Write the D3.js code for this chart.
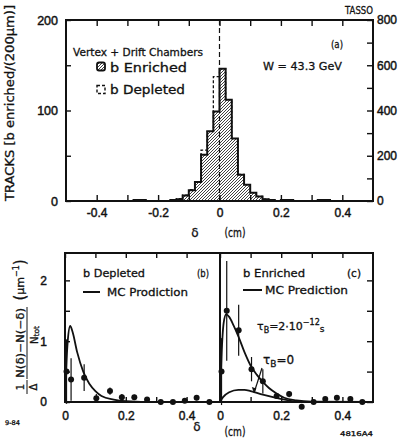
<!DOCTYPE html>
<html>
<head>
<meta charset="utf-8">
<title>TASSO impact parameter</title>
<script src="https://d3js.org/d3.v7.min.js"></script>
<style>
  body { margin: 0; background: #fff; }
  text { font-family: "DejaVu Sans", sans-serif; fill: #111; stroke: #111; stroke-width: 0.3px; }
  .tick text { font-family: "Liberation Sans", Arial, sans-serif; stroke-width: 0.45px; }
</style>
</head>
<body>
<div id="chart"></div>
<script>
// ---- data ----
// histogram bins (lower edges, cm), width 0.02 cm = 200 um
var binLo = [-0.30,-0.28,-0.26,-0.24,-0.22,-0.20,-0.18,-0.16,-0.14,-0.12,-0.10,-0.08,-0.06,-0.04,-0.02,
             0.00,0.02,0.04,0.06,0.08,0.10,0.12,0.14,0.16,0.18,0.20,0.22,0.24,0.26,0.28,0.30,0.32,0.34,0.36,0.38];
var binW = 0.02;
// b enriched, left scale
var enriched = [0,1,1,0,0,0,0,1,2,6,12,21,51,77,99,146,112,69,29,18,9,5,2,1,0,1,1,0,0,0,0,1,1,0,0];
// b depleted, right scale
var depleted = [0,3,3,0,0,0,2,4,10,26,50,86,225,305,550,585,445,276,118,72,36,20,8,4,2,3,3,0,0,0,2,3,3,0,0];

var topXTicks = [-0.4,-0.3,-0.2,-0.1,0,0.1,0.2,0.3,0.4];
var topXLabels = [-0.4,-0.2,0,0.2,0.4];
var leftTicks = [0,50,100,150,200];
var rightTicks = [0,100,200,300,400,500,600,700,800];

// panel (b): b depleted
var depPts = [
  {x:0.005,y:0.50,e:0.53},{x:0.020,y:0.37,e:0.35},{x:0.063,y:0.40,e:0.22},{x:0.103,y:0.06,e:0.07},
  {x:0.148,y:0.18,e:0.06},{x:0.187,y:0.08,e:0.05},{x:0.228,y:0.08,e:0.04},{x:0.270,y:0.04,e:0.03},
  {x:0.315,y:0.00,e:0.02},{x:0.355,y:0.00,e:0.02},{x:0.394,y:0.02,e:0.03},{x:0.433,y:0.07,e:0.04},
  {x:0.475,y:0.00,e:0.02}];
var mcDep = [[0,0],[0.004,0.55],[0.009,1.0],[0.017,1.25],[0.025,1.15],[0.04,0.82],[0.06,0.5],
  [0.08,0.3],[0.10,0.18],[0.12,0.1],[0.16,0.04],[0.20,0.015],[0.30,0],[0.50,0]];

// panel (c): b enriched
var enrPts = [
  {x:0.005,y:0.50,e:0.55},{x:0.022,y:1.50,e:0.82},{x:0.061,y:1.18,e:0.42},{x:0.103,y:0.54,e:0.20},
  {x:0.140,y:0.34,e:0.20},{x:0.185,y:0.10,e:0.05},{x:0.226,y:0.13,e:0.05},{x:0.267,y:-0.08,e:0.03},
  {x:0.306,y:0.00,e:0.02},{x:0.344,y:0.05,e:0.02},{x:0.382,y:0.07,e:0.04},{x:0.426,y:0.05,e:0.04},
  {x:0.465,y:0.00,e:0.02}];
var mcTau2 = [[0,0],[0.005,0.75],[0.012,1.3],[0.02,1.44],[0.03,1.4],[0.045,1.25],[0.06,1.08],
  [0.08,0.82],[0.10,0.6],[0.12,0.45],[0.14,0.33],[0.16,0.23],[0.185,0.14],[0.21,0.07],
  [0.25,0.025],[0.30,0.005],[0.50,0]];
var mcTau0 = [[0,0],[0.01,0.08],[0.03,0.16],[0.06,0.2],[0.08,0.2],[0.10,0.18],[0.14,0.12],
  [0.18,0.07],[0.22,0.03],[0.27,0],[0.50,0]];

var botXTicks = [0,0.1,0.2,0.3,0.4];
var botXLabels = [0,0.2,0.4];
var botYTicks = [0,0.5,1,1.5,2];

// ---- drawing ----
var svg = d3.select("#chart").append("svg").attr("width", 409).attr("height", 443);

var defs = svg.append("defs");
var pat = defs.append("pattern").attr("id", "hatch")
  .attr("patternUnits", "userSpaceOnUse").attr("width", 3).attr("height", 3);
pat.append("rect").attr("width", 3).attr("height", 3).attr("fill", "#fff");
pat.append("path").attr("d", "M-0.75,0.75 l1.5,-1.5 M0,3 l3,-3 M2.25,3.75 l1.5,-1.5")
  .attr("stroke", "#111").attr("stroke-width", 0.8);

function fmt(d) { return d === 0 ? "0" : (d < 0 ? "-" : "") + d3.format(".1f")(Math.abs(d)); }

// top panel
var xT = d3.scaleLinear().domain([-0.5, 0.5]).range([66, 373]);
var yL = d3.scaleLinear().domain([0, 200]).range([201, 20]);
var yR = d3.scaleLinear().domain([0, 800]).range([201, 20]);

function stepPath(vals, y) {
  var pts = [[xT(binLo[0]), y(0)]];
  binLo.forEach(function(lo, i) {
    pts.push([xT(lo), y(vals[i])], [xT(lo + binW), y(vals[i])]);
  });
  pts.push([xT(binLo[binLo.length - 1] + binW), y(0)]);
  return d3.line()(pts);
}

var topG = svg.append("g");
topG.append("path").attr("d", stepPath(depleted, yR))
  .attr("fill", "none").attr("stroke", "#111").attr("stroke-width", 1.3).attr("stroke-dasharray", "3,2");
topG.append("path").attr("d", stepPath(enriched, yL))
  .attr("fill", "url(#hatch)").attr("stroke", "#111").attr("stroke-width", 2).attr("stroke-linejoin", "miter");

function styleAxis(g, size) {
  g.select(".domain").remove();
  g.selectAll(".tick line").attr("stroke", "#111").attr("stroke-width", 1.4);
  g.selectAll(".tick text").style("font-size", size + "px").attr("fill", "#111");
}

topG.append("g").attr("transform", "translate(0,201)")
  .call(d3.axisBottom(xT).tickValues(topXTicks).tickSize(-6).tickPadding(7)
    .tickFormat(function(d) { return topXLabels.indexOf(d) >= 0 ? fmt(d) : ""; }))
  .call(styleAxis, 12);
topG.append("g").attr("transform", "translate(0,20)")
  .call(d3.axisTop(xT).tickValues(topXTicks).tickSize(-6).tickFormat(""))
  .call(styleAxis, 12);
topG.append("g").attr("transform", "translate(66,0)")
  .call(d3.axisLeft(yL).tickValues(leftTicks).tickSize(-5).tickPadding(8)
    .tickFormat(function(d) { return d % 100 === 0 ? d : ""; }))
  .call(styleAxis, 12.5);
topG.append("g").attr("transform", "translate(373,0)")
  .call(d3.axisRight(yR).tickValues(rightTicks).tickSize(-6).tickPadding(4)
    .tickFormat(function(d) { return d % 200 === 0 ? d : ""; }))
  .call(styleAxis, 12);

topG.append("rect").attr("x", 66).attr("y", 20).attr("width", 307).attr("height", 181)
  .attr("fill", "none").attr("stroke", "#111").attr("stroke-width", 2);
topG.append("line").attr("x1", xT(0)).attr("x2", xT(0)).attr("y1", 20).attr("y2", 201)
  .attr("stroke", "#111").attr("stroke-width", 1.2).attr("stroke-dasharray", "5,3");

function txt(g, x, y, s, size, len, anchor) {
  var t = g.append("text").attr("x", x).attr("y", y).style("font-size", size + "px")
    .attr("text-anchor", anchor || "start").text(s);
  if (len) t.attr("textLength", len).attr("lengthAdjust", "spacingAndGlyphs");
  return t;
}
function rtxt(g, x, y, s, size, len) {
  var t = g.append("text").attr("transform", "translate(" + x + "," + y + ") rotate(-90)")
    .attr("text-anchor", "middle").attr("dominant-baseline", "central")
    .style("font-size", size + "px").text(s);
  if (len) t.attr("textLength", len).attr("lengthAdjust", "spacingAndGlyphs");
  return t;
}

txt(topG, 373, 14, "TASSO", 10.5, 28, "end");
txt(topG, 73, 56, "Vertex + Drift Chambers", 11, 130);
txt(topG, 331, 48, "(a)", 11, 12);
txt(topG, 263, 69.5, "W = 43.3 GeV", 11, 79);
txt(topG, 110, 71.5, "b Enriched", 11.5, 77);
txt(topG, 110, 93.5, "b Depleted", 11.5, 75);
topG.append("rect").attr("x", 97).attr("y", 62.5).attr("width", 8).attr("height", 8).attr("rx", 2)
  .attr("fill", "url(#hatch)").attr("stroke", "#111").attr("stroke-width", 1.8);
topG.append("rect").attr("x", 97).attr("y", 85.5).attr("width", 8).attr("height", 8)
  .attr("fill", "none").attr("stroke", "#111").attr("stroke-width", 1.4).attr("stroke-dasharray", "3,2");
rtxt(topG, 10, 103, "TRACKS [b enriched/(200\u03bcm)]", 12, 196);
txt(topG, 195, 237, "\u03b4", 12, null, "middle");
txt(topG, 235, 237, "(cm)", 11.5, 21, "middle");

// bottom panels
var xB = d3.scaleLinear().domain([0, 0.5]).range([65, 217]);
var xC = d3.scaleLinear().domain([0, 0.5]).range([220, 373]);
var yB = d3.scaleLinear().domain([0, 2.45]).range([402, 253]);

var bot = svg.append("g");
var curve = d3.line().curve(d3.curveMonotoneX);

function drawPanel(x, pts, curves) {
  curves.forEach(function(c) {
    bot.append("path").attr("d", curve.x(function(d) { return x(d[0]); }).y(function(d) { return yB(d[1]); })(c))
      .attr("fill", "none").attr("stroke", "#111").attr("stroke-width", 1.8);
  });
  bot.selectAll(null).data(pts).enter().append("line")
    .attr("x1", function(d) { return x(d.x); }).attr("x2", function(d) { return x(d.x); })
    .attr("y1", function(d) { return yB(d.y - d.e); }).attr("y2", function(d) { return yB(d.y + d.e); })
    .attr("stroke", "#111").attr("stroke-width", 1.2);
  bot.selectAll(null).data(pts).enter().append("circle")
    .attr("cx", function(d) { return x(d.x); }).attr("cy", function(d) { return yB(d.y); })
    .attr("r", 3).attr("fill", "#111");
  bot.append("g").attr("transform", "translate(0,402)")
    .call(d3.axisBottom(x).tickValues(botXTicks).tickSize(-5).tickPadding(9)
      .tickFormat(function(d) { return botXLabels.indexOf(d) >= 0 ? fmt(d) : ""; }))
    .call(styleAxis, 12);
  bot.append("g").attr("transform", "translate(0,253)")
    .call(d3.axisTop(x).tickValues(botXTicks).tickSize(-5).tickFormat(""))
    .call(styleAxis, 12);
}

drawPanel(xB, depPts, [mcDep]);
drawPanel(xC, enrPts, [mcTau2, mcTau0]);

bot.append("g").attr("transform", "translate(65,0)")
  .call(d3.axisLeft(yB).tickValues(botYTicks).tickSize(-5).tickPadding(18)
    .tickFormat(function(d) { return d % 1 === 0 ? d : ""; }))
  .call(styleAxis, 12);
bot.append("g").attr("transform", "translate(373,0)")
  .call(d3.axisRight(yB).tickValues(botYTicks).tickSize(-6).tickFormat(""))
  .call(styleAxis, 12);

bot.append("rect").attr("x", 65).attr("y", 253).attr("width", 308).attr("height", 149)
  .attr("fill", "none").attr("stroke", "#111").attr("stroke-width", 2);
bot.append("line").attr("x1", 220).attr("x2", 220).attr("y1", 253).attr("y2", 402)
  .attr("stroke", "#111").attr("stroke-width", 2);

txt(bot, 83, 277, "b Depleted", 11, 62);
bot.append("line").attr("x1", 83).attr("x2", 100).attr("y1", 292).attr("y2", 292)
  .attr("stroke", "#111").attr("stroke-width", 2);
txt(bot, 107, 296, "MC Prodiction", 11, 81);
txt(bot, 197, 277, "(b)", 11, 12);
txt(bot, 243, 277, "b Enriched", 11, 62);
txt(bot, 347, 277, "(c)", 11, 14);
bot.append("line").attr("x1", 243).attr("x2", 262).attr("y1", 290).attr("y2", 290)
  .attr("stroke", "#111").attr("stroke-width", 2);
txt(bot, 265, 294, "MC Prediction", 11, 83);

var t1 = bot.append("text").attr("x", 257).attr("y", 330).style("font-size", "11px");
t1.append("tspan").text("\u03c4");
t1.append("tspan").attr("dy", 3).style("font-size", "8px").text("B");
t1.append("tspan").attr("dy", -3).text("=2\u00b710");
t1.append("tspan").attr("dy", -5).style("font-size", "8px").text("\u221212");
t1.append("tspan").attr("dy", 7).style("font-size", "9px").text("s");

var t2 = bot.append("text").attr("x", 263).attr("y", 364).style("font-size", "12px");
t2.append("tspan").text("\u03c4");
t2.append("tspan").attr("dy", 3).style("font-size", "9px").text("B");
t2.append("tspan").attr("dy", -3).text("=0");
bot.append("line").attr("x1", 262).attr("x2", 254).attr("y1", 368).attr("y2", 393)
  .attr("stroke", "#111").attr("stroke-width", 1.2);
bot.append("path").attr("d", "M254,393 l-2.2,-6 l4.6,1.4 z").attr("fill", "#111");

txt(bot, 197, 431, "\u03b4", 12, null, "middle");
txt(bot, 235, 436, "(cm)", 11.5, 21, "middle");
txt(bot, 5, 424.5, "9-84", 6.5, 15);
txt(bot, 340, 435.5, "4816A4", 6.5, 33);

// bottom y label: (1/Δ) (N(δ)−N(−δ))/N_tot (μm^-1)
rtxt(bot, 20, 387, "1", 10);
bot.append("line").attr("x1", 27).attr("x2", 27).attr("y1", 380).attr("y2", 394).attr("stroke", "#111").attr("stroke-width", 1);
rtxt(bot, 33.5, 387, "\u0394", 10);
rtxt(bot, 20, 343, "N(\u03b4)\u2212N(\u2212\u03b4)", 10, 70);
bot.append("line").attr("x1", 27).attr("x2", 27).attr("y1", 307).attr("y2", 379).attr("stroke", "#111").attr("stroke-width", 1);
var nt = bot.append("text").attr("transform", "translate(34,335) rotate(-90)")
  .attr("text-anchor", "middle").attr("dominant-baseline", "central").style("font-size", "10px");
nt.append("tspan").text("N");
nt.append("tspan").attr("dy", 2).style("font-size", "7.5px").text("tot");
var mu = bot.append("text").attr("transform", "translate(20,280) rotate(-90)")
  .attr("text-anchor", "middle").attr("dominant-baseline", "central").style("font-size", "11px");
mu.append("tspan").style("font-size", "15px").text("(");
mu.append("tspan").text("\u03bcm");
mu.append("tspan").attr("dy", -4).style("font-size", "8px").text("\u22121");
mu.append("tspan").attr("dy", 4).style("font-size", "15px").text(")");
</script>
</body>
</html>
